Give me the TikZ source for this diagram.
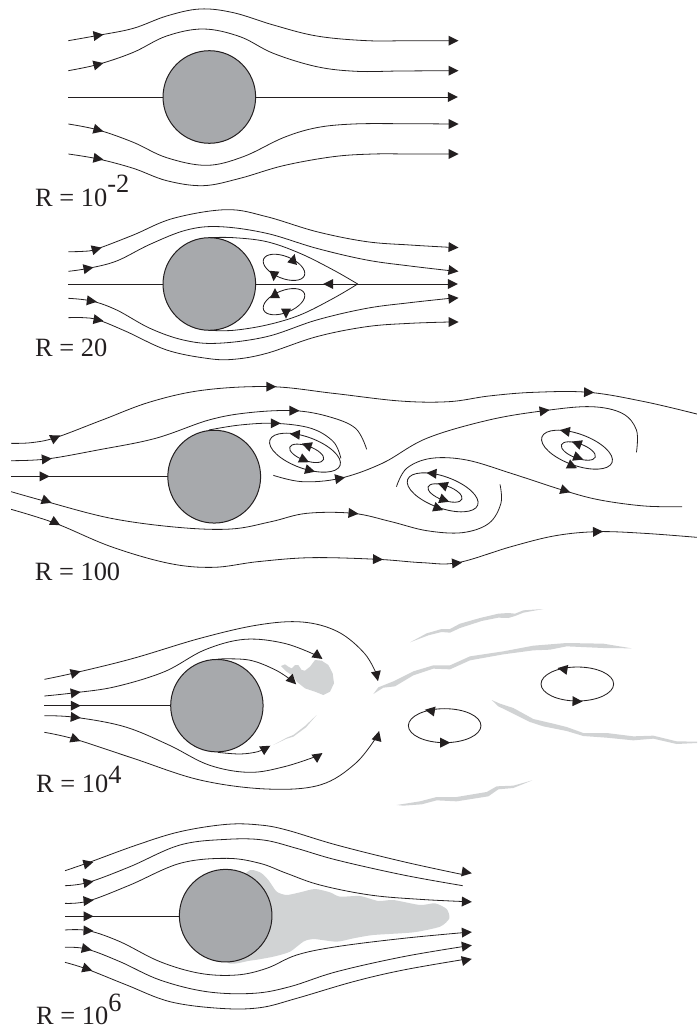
\documentclass[tikz,border=0pt]{standalone}
\usepackage{fontspec}
\setmainfont{Liberation Serif}
\definecolor{ink}{HTML}{231F20}
\definecolor{body}{HTML}{A7A9AC}
\definecolor{wake}{HTML}{D1D3D4}
\tikzset{
  flow/.style={draw=ink,line width=.8pt},
  bodycircle/.style={draw=ink,fill=body,line width=1pt},
  swirl/.style={draw=ink,line width=.85pt},
  wakepatch/.style={fill=wake,draw=none},
  rlabel/.style={anchor=base west,inner sep=0pt,text=ink,font=\fontsize{26.4}{27}\selectfont},
  zoomA/.style={x=.33333pt,y=-.33333pt},
  zoomB/.style={x=.44444pt,y=-.33333pt}
}
\newcommand{\arw}[3]{\fill[ink,shift={(#1,#2)},rotate=#3] (-4.8pt,-5pt) -- (5.2pt,0pt) -- (-4.8pt,5pt) -- cycle;}
\newcommand{\sm}[1]{\draw[flow] plot[smooth,tension=.6] coordinates {#1};}
\newcommand{\vx}[5]{\draw[swirl,shift={(#1,#2)},rotate=#5] (0,0) ellipse[x radius=#3pt,y radius=#4pt];}
\begin{document}
\begin{tikzpicture}
\useasboundingbox (0pt,0pt) rectangle (697pt,-1028pt);
% ---------- Panel 1
\begin{scope}[zoomA]
\sm{(205,122)(295,106)(400,85)(500,48)(600,27)(700,38)(820,75)(950,108)(1100,122)(1230,122)(1350,122)}
\sm{(205,212)(295,193)(400,157)(500,108)(610,87)(720,110)(820,160)(950,200)(1070,214)(1200,213)(1350,212)}
\draw[flow] (205,291) -- (490,291);
\draw[flow] (767,291) -- (1350,291);
\sm{(205,372)(295,390)(400,427)(500,473)(620,496)(730,470)(850,413)(950,383)(1060,372)(1200,371)(1350,372)}
\sm{(205,462)(295,477)(400,505)(500,542)(610,557)(720,535)(850,497)(1000,470)(1120,462)(1230,462)(1350,462)}
\draw[bodycircle] (628,291) circle[radius=46.3pt];
\arw{295}{106}{8}\arw{295}{193}{14}\arw{295}{390}{-15}\arw{295}{476}{-10}
\arw{1360}{122}{0}\arw{1360}{212}{0}\arw{1358}{291}{0}\arw{1360}{372}{0}\arw{1360}{462}{0}
\node[rlabel] (r1) at (105,618) {R = 10\raisebox{13.3pt}{-2}};
\end{scope}
% ---------- Panel 2
\begin{scope}[zoomA]
\sm{(205,755)(250,754)(290,747)(400,705)(520,655)(680,629)(800,650)(950,695)(1100,725)(1230,735)(1350,742)}
\sm{(205,814)(265,805)(350,783)(450,733)(560,690)(660,680)(800,700)(950,745)(1100,780)(1230,798)(1350,812)}
\draw[flow] (205,852) -- (490,852);
\draw[flow] (767,852) -- (1350,852);
\sm{(628,713)(700,713)(800,725)(900,760)(1000,810)(1073,852)}
\sm{(628,991)(700,991)(800,975)(900,945)(1000,895)(1073,852)}
\sm{(205,895)(275,903)(350,930)(450,985)(550,1020)(650,1030)(800,1010)(950,960)(1100,925)(1230,908)(1350,895)}
\sm{(205,953)(250,953)(295,960)(380,995)(500,1050)(620,1075)(700,1078)(800,1060)(950,1010)(1100,980)(1230,970)(1350,966)}
\draw[bodycircle] (628,852) circle[radius=46.3pt];
\arw{290}{747}{15}\arw{265}{805}{10}\arw{275}{903}{-8}\arw{295}{960}{-10}
\arw{1360}{742}{-3}\arw{1360}{812}{-8}\arw{1358}{852}{0}\arw{1360}{895}{5}\arw{1360}{966}{0}
\arw{985}{852}{180}
\begin{scope}[shift={(250pt,-245pt)}]
\vx{102}{67}{22}{11}{-22}
\vx{102}{170}{22}{11}{22}
\arw{130}{42}{75}\arw{72}{93}{-95}\arw{75}{145}{90}\arw{108}{205}{-90}
\end{scope}
\node[rlabel] (r2) at (105,1070) {R = 20};
\end{scope}
% ---------- Panel 3
\begin{scope}[zoomB,shift={(0pt,-370pt)}]
\sm{(25,220)(70,218)(125,203)(230,150)(340,95)(460,60)(610,50)(750,70)(900,93)(1010,95)(1100,78)(1200,67)(1325,67)(1450,95)(1568,132)}
\sm{(25,272)(105,267)(220,240)(350,205)(470,150)(560,128)(662,122)(740,140)(800,175)(825,238)}
\draw[flow] (25,319) -- (378,319);
\sm{(25,365)(105,395)(250,445)(400,472)(520,477)(610,455)(690,430)(795,430)(880,455)(960,482)(1040,488)(1100,460)(1127,400)(1125,343)}
\sm{(25,418)(125,460)(250,530)(380,580)(480,592)(580,575)(700,563)(850,568)(950,578)(1030,578)(1150,530)(1250,497)(1345,485)(1450,490)(1568,502)}
\sm{(615,316)(680,335)(765,325)(860,280)(960,205)(1100,150)(1225,122)(1330,110)(1400,130)(1432,180)(1432,247)}
\sm{(892,350)(915,295)(970,265)(1050,270)(1150,310)(1270,362)(1350,390)(1450,408)(1535,410)}
\sm{(470,180)(540,165)(620,160)(700,175)(750,215)(767,265)}
\draw[bodycircle] (482,320) circle[radius=46.4pt];
\arw{125}{203}{25}\arw{105}{267}{5}\arw{100}{319}{0}\arw{105}{393}{-20}\arw{125}{458}{-28}
\arw{610}{50}{0}\arw{662}{122}{0}\arw{620}{160}{0}\arw{765}{325}{10}\arw{795}{430}{-5}
\arw{850}{568}{-2}\arw{1028}{579}{5}\arw{1345}{485}{2}\arw{1325}{67}{-2}\arw{1225}{122}{8}\arw{1272}{362}{-18}
\node[rlabel] (r3) at (78,630) {R = 100};
\end{scope}
\begin{scope}[zoomA,shift={(255pt,-400pt)}]
\vx{150}{158}{37.3}{15.7}{-20}
\vx{155}{160}{18}{7.3}{-20}
\arw{120}{103}{175}\arw{155}{136}{160}\arw{148}{180}{-25}\arw{165}{211}{-15}
\end{scope}
\begin{scope}[zoomA,shift={(390pt,-450pt)}]
\vx{158}{127}{37.3}{15.7}{-20}
\vx{165}{129}{18}{7.3}{-20}
\arw{125}{70}{175}\arw{158}{105}{160}\arw{163}{150}{-20}\arw{145}{175}{-20}
\end{scope}
\begin{scope}[zoomA,shift={(530pt,-415pt)}]
\vx{141}{104}{37.3}{15.7}{-20}
\vx{145}{108}{18}{7.3}{-20}
\arw{105}{48}{170}\arw{140}{85}{160}\arw{145}{128}{-20}\arw{127}{153}{-25}
\end{scope}
% ---------- Panel 4
\begin{scope}[zoomA,shift={(260pt,-640pt)}]
\fill[wakepatch] (63,78)--(75,73)--(85,80)--(95,85)--(105,75)--(115,75)--(125,90)--(135,92)--(150,80)--(165,60)--(185,62)--(205,75)--(218,100)--(222,130)--(210,155)--(190,165)--(165,155)--(135,145)--(110,125)--(100,108)--(80,95)--cycle;
\fill[wakepatch] (40,315)--(80,293)--(100,285)--(135,258)--(170,225)--(138,262)--(100,290)--(80,296)--cycle;
\end{scope}
\begin{scope}[zoomA,shift={(370pt,-600pt)}]
\fill[wakepatch] (120,127)--(170,100)--(215,87)--(240,87)--(270,71)--(330,54)--(385,41)--(415,39)--(435,41)--(460,31)--(520,27)--(460,38)--(435,48)--(415,54)--(385,53)--(335,63)--(270,84)--(240,98)--(215,96)--(175,106)--cycle;
\fill[wakepatch] (10,282)--(25,262)--(70,244)--(130,214)--(190,196)--(240,196)--(300,169)--(400,154)--(490,137)--(590,129)--(700,131)--(785,145)--(700,144)--(590,139)--(540,149)--(490,151)--(400,163)--(300,181)--(240,208)--(190,206)--(130,226)--(75,259)--(40,263)--cycle;
\fill[wakepatch] (365,300)--(390,311)--(430,324)--(490,357)--(550,371)--(590,381)--(640,399)--(710,399)--(790,409)--(850,407)--(920,424)--(981,425)--(981,429)--(920,432)--(850,416)--(790,421)--(710,413)--(640,408)--(590,393)--(520,379)--(480,366)--(420,336)--(385,319)--cycle;
\fill[wakepatch] (80,615)--(150,604)--(200,591)--(260,591)--(350,576)--(380,559)--(430,557)--(487,541)--(430,564)--(385,568)--(355,589)--(260,604)--(200,601)--(155,613)--(100,617)--cycle;
\draw[swirl] (224,377) ellipse[x radius=36.3pt,y radius=17pt];
\draw[swirl] (622,252) ellipse[x radius=36.3pt,y radius=17pt];
\arw{180}{332}{170}\arw{225}{428}{0}\arw{578}{207}{170}\arw{622}{304}{-2}
\end{scope}
\begin{scope}[zoomB,shift={(0pt,-600pt)}]
\sm{(100,238)(170,218)(300,175)(450,115)(580,75)(680,66)(760,95)(820,160)(848,225)}
\sm{(100,288)(170,278)(260,260)(370,215)(460,150)(550,118)(640,130)(715,168)}
\sm{(490,177)(560,180)(620,210)(660,245)}
\draw[flow] (100,317) -- (384,317);
\sm{(100,347)(170,352)(280,380)(380,435)(470,495)(560,517)(640,500)(718,466)}
\sm{(100,397)(170,418)(300,475)(450,540)(600,567)(720,555)(800,490)(850,405)}
\sm{(490,457)(540,462)(580,455)(600,442)}
\draw[bodycircle] (488,317) circle[radius=46.2pt];
\arw{170}{218}{15}\arw{170}{278}{8}\arw{170}{317}{0}\arw{170}{352}{-5}\arw{170}{418}{-20}
\arw{848}{228}{-78}\arw{716}{168}{-35}\arw{658}{242}{-45}\arw{716}{468}{35}\arw{850}{408}{75}\arw{598}{445}{30}
\node[rlabel] (r4) at (81,577) {R = 10\raisebox{9pt}{4}};
\end{scope}
% ---------- Panel 5
\begin{scope}[zoomA,shift={(20pt,-815pt)}]
\fill[wakepatch] plot[smooth cycle,tension=.4] coordinates {(617,302)(680,172)(720,172)(745,195)(770,230)(800,240)(840,232)(885,222)(930,232)(960,245)(1020,243)(1075,258)(1120,255)(1200,270)(1245,265)(1280,282)(1288,310)(1260,335)(1180,352)(1060,360)(1000,370)(950,380)(880,372)(850,380)(810,410)(760,425)(690,437)(620,440)};
\sm{(135,167)(205,143)(350,90)(480,50)(620,28)(720,30)(800,45)(950,90)(1150,140)(1325,178)}
\sm{(135,212)(205,202)(330,155)(480,90)(620,73)(730,75)(830,100)(950,135)(1150,180)(1328,212)}
\sm{(135,265)(205,258)(330,210)(480,145)(620,130)(720,145)(800,175)(900,210)(1050,240)(1200,253)(1340,260)}
\draw[flow] (135,304) -- (478,304);
\sm{(135,345)(205,347)(300,380)(420,440)(540,475)(650,480)(740,460)(830,420)(950,395)(1150,370)(1340,352)}
\sm{(135,397)(200,402)(300,440)(420,495)(560,530)(700,535)(810,515)(950,470)(1150,425)(1340,393)}
\sm{(135,442)(200,462)(320,510)(450,560)(600,580)(720,578)(830,550)(1000,500)(1150,465)(1340,432)}
\draw[bodycircle] (617,302) circle[radius=46.3pt];
\arw{205}{145}{15}\arw{205}{202}{10}\arw{205}{257}{5}\arw{205}{304}{0}\arw{205}{347}{-3}\arw{200}{402}{-12}\arw{202}{462}{-18}
\arw{1340}{172}{-10}\arw{1340}{260}{-2}\arw{1340}{352}{3}\arw{1340}{393}{8}\arw{1340}{435}{12}
\node[rlabel] (r5) at (48,627) {R = 10\raisebox{12.3pt}{6}};
\end{scope}
\end{tikzpicture}
\end{document}
